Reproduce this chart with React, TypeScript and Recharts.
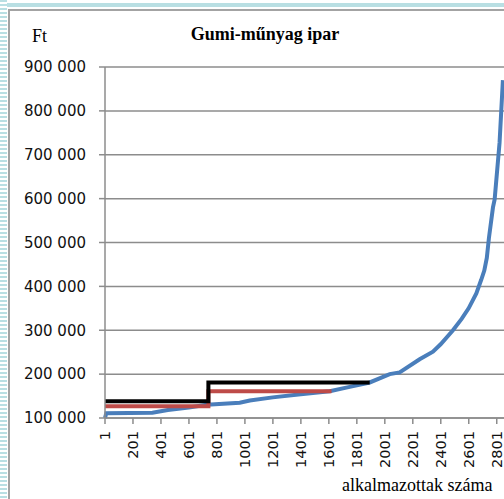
import { CartesianGrid, Line, LineChart, XAxis, YAxis } from "recharts";

// sorted wages (blue)
const empIdx = [1, 10, 340, 450, 600, 729, 964, 1036, 1200, 1400, 1607, 1750, 1893, 2036, 2107, 2250, 2345, 2400, 2488, 2550, 2600, 2655, 2690, 2712, 2730, 2745, 2774, 2786, 2821, 2845];
const wages = [100000, 111000, 112000, 118000, 124000, 130000, 135000, 140000, 147000, 154000, 161000, 171000, 181000, 200000, 204000, 234000, 251000, 268000, 300000, 326000, 350000, 384000, 415000, 436000, 465000, 510000, 580000, 598000, 727000, 870000];

// red step line
const redIdx = [1, 740, 1620];
const redWage = [127000, 161000, 161000];

// black step line
const blackIdx = [1, 740, 1893];
const blackWage = [138000, 181000, 181000];

const xTicks = [1, 201, 401, 601, 801, 1001, 1201, 1401, 1601, 1801, 2001, 2201, 2401, 2601, 2801];
const yTicks = [100000, 200000, 300000, 400000, 500000, 600000, 700000, 800000, 900000];

const blueData = empIdx.map((x, i) => ({ x, v: wages[i] }));
const redData = redIdx.map((x, i) => ({ x, v: redWage[i] }));
const blackData = blackIdx.map((x, i) => ({ x, v: blackWage[i] }));

const fmt = (v: number) => String(v).replace(/\B(?=(\d{3})+(?!\d))/g, " ");

const XTick = (props: any) => {
  const { x, y, payload } = props;
  return (
    <text
      x={x}
      y={y}
      dy="0.36em"
      textAnchor="end"
      transform={`rotate(-90, ${x}, ${y})`}
      fontFamily="DejaVu Sans"
      fontSize={14.5}
      fill="#111"
    >
      {payload.value}
    </text>
  );
};

const serif = { fontFamily: "'Liberation Serif', serif", fontSize: 18, lineHeight: "18px", color: "#000", position: "absolute" as const, whiteSpace: "nowrap" as const };

export default function App() {
  return (
    <div style={{ position: "absolute", left: 0, top: 0, width: 504, height: 499, overflow: "hidden", background: "#fff" }}>
      {/* frame decoration */}
      <div style={{ position: "absolute", left: 0, top: 3, width: 504, height: 4, background: "#b9dfe3" }} />
      <div
        style={{
          position: "absolute",
          left: 0,
          top: 0,
          width: 7,
          height: 499,
          background: "repeating-linear-gradient(to bottom, #b9dfe3 0px, #b9dfe3 2px, #ffffff 2px, #ffffff 4px)",
        }}
      />
      <div style={{ position: "absolute", left: 8, top: 9, width: 500, height: 495, borderTop: "2px solid #a3a3a3", borderLeft: "2px solid #a3a3a3" }} />

      <div style={{ position: "absolute", left: 0, top: 0 }}>
        <LineChart width={520} height={499} margin={{ top: 67, right: 15, bottom: 0, left: 0 }}>
          <CartesianGrid vertical={false} stroke="#8c8c8c" strokeWidth={1.5} />
          <XAxis
            type="number"
            dataKey="x"
            domain={[1, 2860]}
            ticks={xTicks}
            interval={0}
            height={81}
            tickSize={6}
            tickMargin={7}
            stroke="#8c8c8c"
            strokeWidth={1.5}
            tick={<XTick />}
            allowDuplicatedCategory={false}
          />
          <YAxis
            type="number"
            domain={[100000, 900000]}
            ticks={yTicks}
            width={105}
            tickSize={6}
            tickMargin={13}
            stroke="#8c8c8c"
            strokeWidth={1.5}
            tickFormatter={fmt}
            tick={{ fill: "#111", fontFamily: "DejaVu Sans", fontSize: 15 }}
          />
          <Line data={blueData} dataKey="v" type="linear" stroke="#4a7ebb" strokeWidth={4} dot={false} isAnimationActive={false} />
          <Line data={redData} dataKey="v" type="stepAfter" stroke="#be4b48" strokeWidth={4} dot={false} isAnimationActive={false} />
          <Line data={blackData} dataKey="v" type="stepAfter" stroke="#000000" strokeWidth={4} dot={false} isAnimationActive={false} />
        </LineChart>
      </div>

      <div style={{ ...serif, left: 32, top: 27 }}>Ft</div>
      <div style={{ ...serif, left: 165, top: 25, width: 200, textAlign: "center", fontWeight: "bold" }}>Gumi-műnyag ipar</div>
      <div style={{ ...serif, left: 342, top: 476 }}>alkalmazottak száma</div>
    </div>
  );
}
